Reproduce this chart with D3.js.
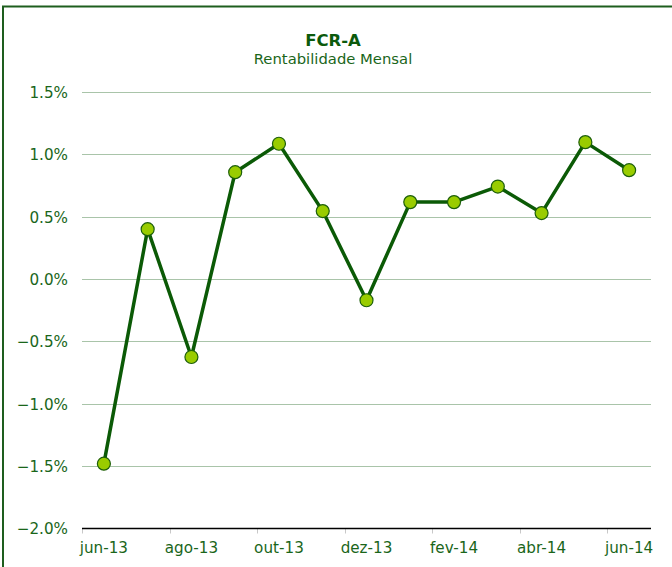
<!DOCTYPE html>
<html>
<head>
<meta charset="utf-8">
<script src="https://cdn.jsdelivr.net/npm/d3@7"></script>
<style>
  html, body { margin: 0; padding: 0; background: #fff; }
  svg { display: block; }
</style>
</head>
<body>
<script>
const months = ["jun-13","jul-13","ago-13","set-13","out-13","nov-13","dez-13","jan-14","fev-14","mar-14","abr-14","mai-14","jun-14"];
const values = [-1.48, 0.40, -0.625, 0.857, 1.085, 0.545, -0.17, 0.617, 0.617, 0.742, 0.529, 1.098, 0.873];
const tickLabels = ["jun-13","ago-13","out-13","dez-13","fev-14","abr-14","jun-14"];
const yTicks = [-2.0, -1.5, -1.0, -0.5, 0.0, 0.5, 1.0, 1.5];

(function () {
const W = 672, H = 567;
const pLeft = 82, pRight = 651, pTop = 92, pBottom = 528.5;
const font = "'DejaVu Sans', Verdana, sans-serif";

const svg = d3.select("body").append("svg").attr("width", W).attr("height", H);

// frame
svg.append("path")
  .attr("d", `M3,${H + 5} L3,6.5 L${W + 5},6.5`)
  .attr("fill", "none").attr("stroke", "#1e5e1e").attr("stroke-width", 2);

svg.append("text").attr("x", 333).attr("y", 46).attr("text-anchor", "middle")
  .attr("font-family", font).attr("font-weight", "bold").attr("font-size", 16.5)
  .attr("fill", "#0c5a0c").text("FCR-A");
svg.append("text").attr("x", 333).attr("y", 64).attr("text-anchor", "middle")
  .attr("font-family", font).attr("font-size", 14.8)
  .attr("fill", "#1a661a").text("Rentabilidade Mensal");

const x = d3.scaleBand().domain(months).range([pLeft, pRight]).padding(0);
const y = d3.scaleLinear().domain([-2.0, 1.5]).range([pBottom, pTop]);

// gridlines
svg.append("g").selectAll("line").data(yTicks.filter(d => d > -2.0)).join("line")
  .attr("x1", pLeft).attr("x2", pRight)
  .attr("y1", d => Math.round(y(d)) + 0.5).attr("y2", d => Math.round(y(d)) + 0.5)
  .attr("stroke", "#a9c4a9").attr("stroke-width", 1);

// y axis labels
const yAxis = d3.axisLeft(y).tickValues(yTicks).tickSize(0).tickPadding(0)
  .tickFormat(d => d3.format(".1f")(d) + "%");
const gy = svg.append("g").attr("transform", `translate(${pLeft - 14},0)`).call(yAxis);
gy.select(".domain").remove();
gy.selectAll("text").attr("font-family", font).attr("font-size", 15.2).attr("fill", "#1a661a").attr("dy", "0.35em");

// x axis
const bw = x.bandwidth();
const xAxis = d3.axisBottom(x).tickValues(tickLabels).tickSize(0).tickPadding(14);
const gx = svg.append("g").attr("transform", `translate(0,${pBottom})`).call(xAxis);
gx.select(".domain").remove();
gx.selectAll("text").attr("font-family", font).attr("font-size", 15.2).attr("fill", "#1a661a");

// tick marks at band boundaries every two bands
svg.append("g").selectAll("line").data([pLeft].concat([1,3,5,7,9,11].map(i => x(months[i]) + bw))).join("line")
  .attr("x1", d => Math.round(d) + 0.5).attr("x2", d => Math.round(d) + 0.5)
  .attr("y1", pBottom).attr("y2", pBottom + 5)
  .attr("stroke", "#c8c8c8").attr("stroke-width", 1);

svg.append("line").attr("x1", pLeft).attr("x2", pRight).attr("y1", pBottom).attr("y2", pBottom)
  .attr("stroke", "#000").attr("stroke-width", 1.3);

// line
const line = d3.line().x((d, i) => x(months[i]) + bw / 2).y(d => y(d));
svg.append("path").datum(values).attr("d", line)
  .attr("fill", "none").attr("stroke", "#0b5a06").attr("stroke-width", 3.5)
  .attr("stroke-linejoin", "round");

svg.append("g").selectAll("circle").data(values).join("circle")
  .attr("cx", (d, i) => x(months[i]) + bw / 2).attr("cy", d => y(d)).attr("r", 6.5)
  .attr("fill", "#99cc00").attr("stroke", "#1c5e0a").attr("stroke-width", 1.2);
})();
</script>
</body>
</html>
